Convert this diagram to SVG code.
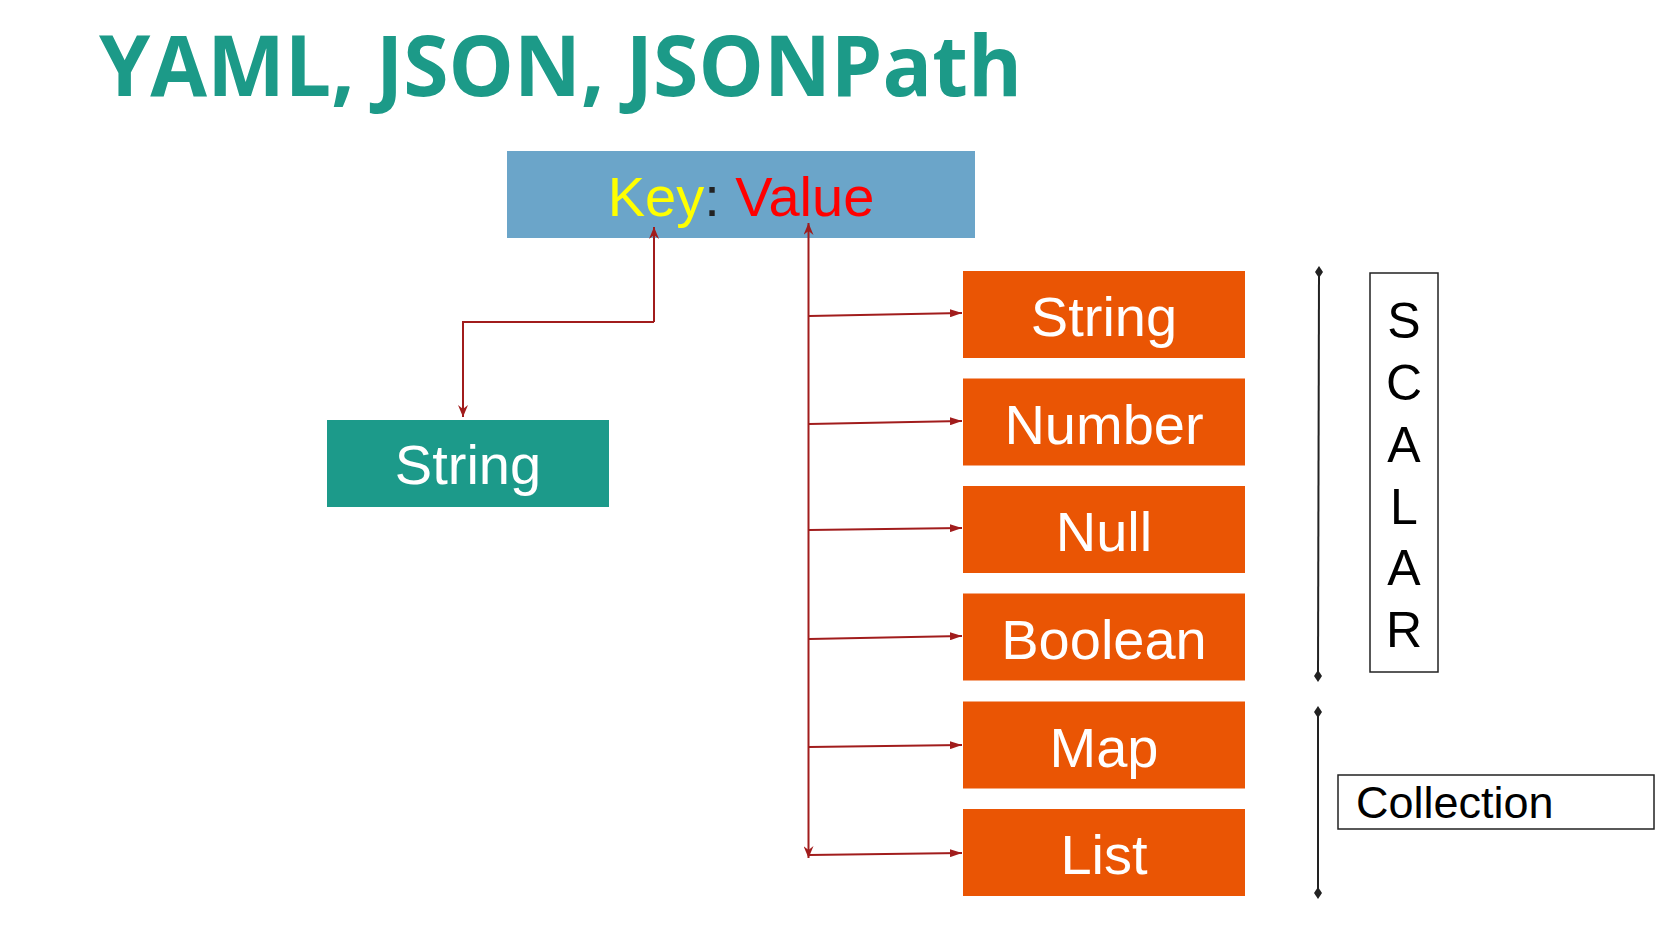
<svg xmlns="http://www.w3.org/2000/svg" width="1667" height="929" viewBox="0 0 1667 929">
<defs>
<style>
.title{font-family:"Open Sans","Liberation Sans",sans-serif;font-weight:bold;font-size:84px;fill:#1C9A88}
.lbl{font-family:"Liberation Sans",Arial,sans-serif;font-size:56px;fill:#FFFFFF;text-anchor:middle}
.orange{fill:#EA5504}
.teal{fill:#1C9A8A}
.blue{fill:#6BA5C9}
.con{stroke:#A11C1C;stroke-width:2;fill:none}
.brk{stroke:#222222;stroke-width:2;fill:none}
.side{font-family:"Liberation Sans",Arial,sans-serif;fill:#000000}
</style>
<marker id="tri" viewBox="0 0 12 8" refX="12" refY="4" markerWidth="12" markerHeight="8" markerUnits="userSpaceOnUse" orient="auto">
<path d="M0,0 L12,4 L0,8 z" fill="#A11C1C"/>
</marker>
<marker id="barb" viewBox="0 0 12 10" refX="12" refY="5" markerWidth="12" markerHeight="10" markerUnits="userSpaceOnUse" orient="auto-start-reverse">
<path d="M0,0 L12,5 L0,10 L4,5 z" fill="#A11C1C"/>
</marker>
<marker id="dia" viewBox="0 0 8 12" refX="4" refY="6" markerWidth="8" markerHeight="12" markerUnits="userSpaceOnUse" orient="0">
<path d="M4,0 L8,6 L4,12 L0,6 z" fill="#222222"/>
</marker>
</defs>
<rect width="1667" height="929" fill="#FFFFFF"/>
<text class="title" x="99" y="96" textLength="923" lengthAdjust="spacingAndGlyphs">YAML, JSON, JSONPath</text>

<g id="keyvalue">
<rect class="blue" x="507" y="151" width="468" height="87"/>
<text x="741" y="216" font-family="Liberation Sans, Arial, sans-serif" font-size="56" text-anchor="middle"><tspan fill="#FFFF00">Key</tspan><tspan fill="#222222">: </tspan><tspan fill="#FF0000">Value</tspan></text>
</g>

<g id="keystring">
<rect class="teal" x="327" y="420" width="282" height="87"/>
<text class="lbl" x="468" y="484">String</text>
</g>

<g id="string">
<rect class="orange" x="963" y="271" width="282" height="87"/>
<text class="lbl" x="1104" y="336">String</text>
</g>
<g id="number">
<rect class="orange" x="963" y="378.5" width="282" height="87"/>
<text class="lbl" x="1104" y="443.5">Number</text>
</g>
<g id="null">
<rect class="orange" x="963" y="486" width="282" height="87"/>
<text class="lbl" x="1104" y="551">Null</text>
</g>
<g id="boolean">
<rect class="orange" x="963" y="593.5" width="282" height="87"/>
<text class="lbl" x="1104" y="658.5">Boolean</text>
</g>
<g id="map">
<rect class="orange" x="963" y="701.5" width="282" height="87"/>
<text class="lbl" x="1104" y="766.5">Map</text>
</g>
<g id="list">
<rect class="orange" x="963" y="809" width="282" height="87"/>
<text class="lbl" x="1104" y="874">List</text>
</g>

<g id="connectors">
<path class="con" d="M654,322 V227" marker-end="url(#barb)"/>
<path class="con" d="M654,322 H463 V417" marker-end="url(#barb)"/>
<path class="con" d="M808.5,223 L808.5,858" marker-start="url(#barb)" marker-end="url(#barb)"/>
<path class="con" d="M809,316 L962,313" marker-end="url(#tri)"/>
<path class="con" d="M809,424 L962,421" marker-end="url(#tri)"/>
<path class="con" d="M809,530 L962,528" marker-end="url(#tri)"/>
<path class="con" d="M809,639 L962,636" marker-end="url(#tri)"/>
<path class="con" d="M809,747 L962,745" marker-end="url(#tri)"/>
<path class="con" d="M809,855 L962,853" marker-end="url(#tri)"/>
</g>

<g id="scalar">
<path class="brk" d="M1319,272 L1318,676" marker-start="url(#dia)" marker-end="url(#dia)"/>
<rect x="1370" y="273" width="68" height="399" fill="none" stroke="#222222" stroke-width="1.5"/>
<g class="side" font-size="50" text-anchor="middle">
<text x="1404" y="338">S</text>
<text x="1404" y="400">C</text>
<text x="1404" y="462">A</text>
<text x="1404" y="524">L</text>
<text x="1404" y="585">A</text>
<text x="1404" y="647">R</text>
</g>
</g>

<g id="collection">
<path class="brk" d="M1318,712 L1318,893" marker-start="url(#dia)" marker-end="url(#dia)"/>
<rect x="1338" y="775" width="316" height="54" fill="none" stroke="#222222" stroke-width="1.5"/>
<text class="side" x="1356" y="818" font-size="45">Collection</text>
</g>
</svg>
